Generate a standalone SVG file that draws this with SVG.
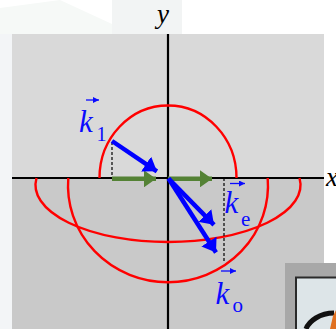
<svg xmlns="http://www.w3.org/2000/svg" width="336" height="329" viewBox="0 0 336 329">
<defs>
<style>
.lbl{font-family:"Liberation Serif","Times New Roman",serif;fill:#0a0aff}
.it{font-style:italic}
.ax{stroke:#000;stroke-width:2.2;fill:none}
.red{stroke:#f00;stroke-width:2.4;fill:none}
.blue{stroke:#0000ff;stroke-width:4.5;fill:none}
.green{stroke:#548235;stroke-width:4.5;fill:none}
.dash{stroke:#000;stroke-width:1.2;stroke-dasharray:3 2;fill:none}
.ovr{stroke:#0a0aff;stroke-width:1.3;fill:none}
</style>
<marker id="hb" viewBox="0 0 13 18" refX="13" refY="9" markerWidth="13" markerHeight="18" markerUnits="userSpaceOnUse" orient="auto"><path d="M0,0 L13,9 L0,18 z" fill="#0000ff"/></marker>
<marker id="hg" viewBox="0 0 12 17" refX="12" refY="8.5" markerWidth="12" markerHeight="17" markerUnits="userSpaceOnUse" orient="auto"><path d="M0,0 L12,8.5 L0,17 z" fill="#548235"/></marker>
<marker id="hs" viewBox="0 0 6 6" refX="6" refY="3" markerWidth="6" markerHeight="6" markerUnits="userSpaceOnUse" orient="auto"><path d="M0,0 L6,3 L0,6 z" fill="#0a0aff"/></marker>
</defs>
<rect x="0" y="0" width="336" height="329" fill="#fff"/>
<g id="decor">
<polygon points="0,8 60,0 112,24 112,34 0,34" fill="#f6f9f7"/>
<polygon points="112,0 182,0 182,34 112,34" fill="#f2f4f4"/>
<rect x="0" y="34" width="12" height="295" fill="#f3f5f7"/>
</g>
<g id="panel">
<rect x="12" y="34" width="312" height="144" fill="#d9d9d9"/>
<rect x="12" y="178" width="312" height="151" fill="#c9c9c9"/>
</g>
<g id="frame">
<rect x="285" y="263" width="51" height="66" fill="#a8a8a8"/>
<rect x="296" y="277.5" width="42" height="53" fill="#dde5e8" stroke="#2a2a2a" stroke-width="2"/>
<path d="M334,313 C320,313 309,321 306,329" stroke="#111" stroke-width="5" fill="none"/>
<polygon points="333,316 336,310 336,329 330,329" fill="#e07020"/>
</g>
<g id="axes">
<line class="ax" x1="168" y1="34" x2="168" y2="329"/>
<line class="ax" x1="12" y1="178" x2="324" y2="178"/>
<text class="lbl it" x="157" y="23" font-size="27" style="fill:#000">y</text>
<text class="lbl it" x="326" y="186" font-size="27" style="fill:#000">x</text>
</g>
<g id="curves">
<path class="red" d="M99.5,178 A68.5,72.5 0 0 1 236.5,178"/>
<path class="red" d="M36.5,178 A132.5,57 0 1 0 299.5,178"/>
<path class="red" d="M68.3,178 A100,96.7 0 1 0 267.7,178"/>
</g>
<g id="connectors">
<line class="dash" x1="112" y1="142" x2="112" y2="178"/>
<line class="dash" x1="224" y1="178" x2="224" y2="262"/>
<line class="green" x1="112" y1="178.8" x2="156" y2="178.8" marker-end="url(#hg)"/>
<line class="green" x1="168" y1="178.8" x2="212" y2="178.8" marker-end="url(#hg)"/>
<line class="blue" x1="112" y1="141" x2="156.9" y2="171.3" marker-end="url(#hb)"/>
<line class="blue" x1="168.5" y1="178.5" x2="214" y2="224.8" marker-end="url(#hb)"/>
<line class="blue" x1="168.5" y1="178.5" x2="216" y2="252.5" marker-end="url(#hb)"/>
</g>
<g id="k1">
<text class="lbl it" x="79" y="131.5" font-size="31">k</text>
<text class="lbl" x="96.5" y="140.5" font-size="20">1</text>
<line class="ovr" x1="86" y1="100" x2="99" y2="100" marker-end="url(#hs)"/>
</g>
<g id="ke">
<text class="lbl it" x="224.5" y="213" font-size="31">k</text>
<text class="lbl" x="241" y="226" font-size="21">e</text>
<line class="ovr" x1="230" y1="183.5" x2="245" y2="183.5" marker-end="url(#hs)"/>
</g>
<g id="ko">
<text class="lbl it" x="215.5" y="304" font-size="31">k</text>
<text class="lbl" x="232.5" y="312" font-size="21">o</text>
<line class="ovr" x1="221" y1="271" x2="236" y2="271" marker-end="url(#hs)"/>
</g>
</svg>
